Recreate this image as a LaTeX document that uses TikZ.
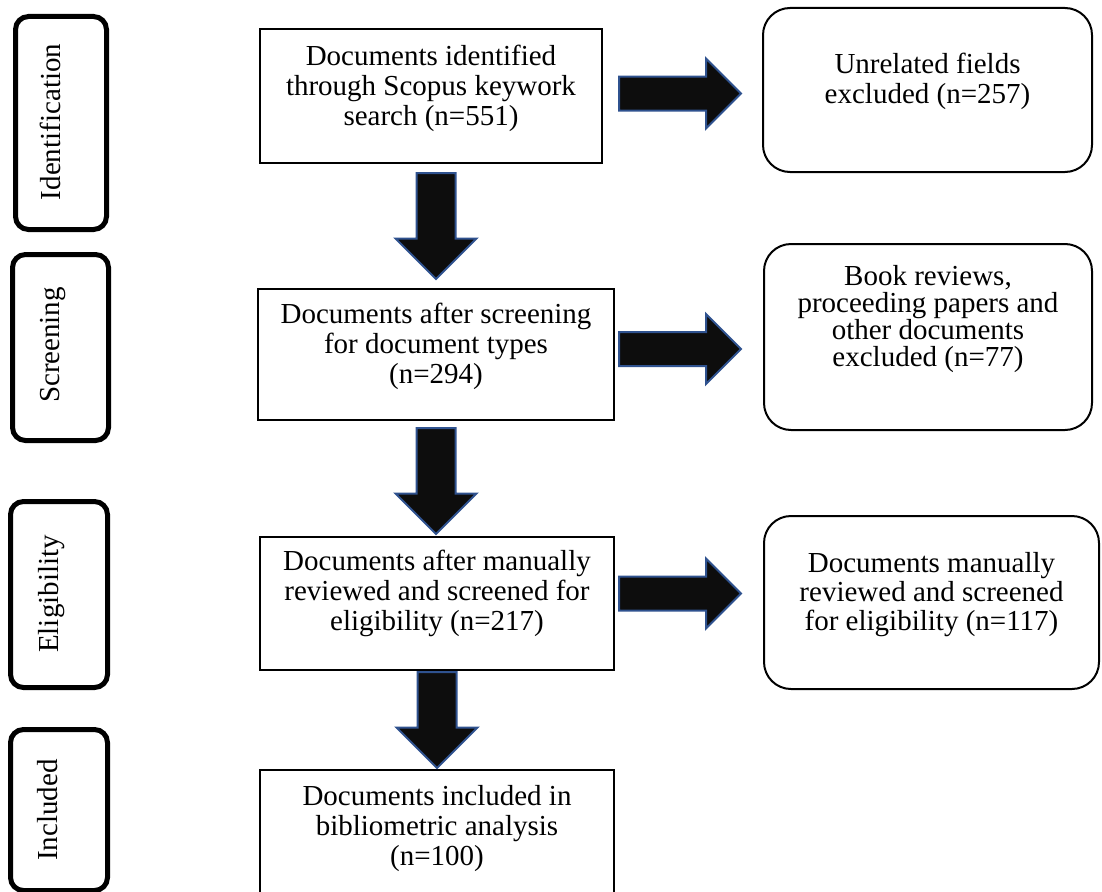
\documentclass[tikz,border=0pt]{standalone}
\usepackage{fontspec}
\setmainfont{Liberation Serif}
\usetikzlibrary{shapes.arrows,calc}
\definecolor{arrowline}{RGB}{47,82,143}
\definecolor{arrowfill}{RGB}{13,13,13}

\begin{document}
\begin{tikzpicture}[x=1pt,y=-1pt]
\tikzstyle{every node}+=[inner sep=0pt]
\tikzstyle{phasebox}=[draw=black, line width=5pt, rounded corners=13pt]
\tikzstyle{stepbox}=[draw=black, line width=2pt]
\tikzstyle{exclbox}=[draw=black, line width=2pt, rounded corners=27pt]
\tikzstyle{phasetext}=[rotate=90, anchor=base, font=\fontsize{29}{30}\selectfont]
\tikzstyle{steptext}=[anchor=north, align=center, font=\fontsize{29}{30}\selectfont]
\tikzstyle{blockarrow}=[single arrow, draw=arrowline, fill=arrowfill, line width=2pt, inner xsep=0pt, anchor=tail]
\tikzstyle{downarrow}=[blockarrow, rotate=-90, inner ysep=18.5pt, single arrow head extend=21pt, minimum height=106pt]
\tikzstyle{rightarrow}=[blockarrow, inner ysep=16pt, single arrow head extend=18pt, minimum height=122pt]
\useasboundingbox (0,0) rectangle (1102,891);
\clip (0,0) rectangle (1102,891);
\node[phasebox, minimum width=91pt, minimum height=213pt] (idn) at (61,123) {};
\node[phasetext] (idntxt) at (60,122) {Identification};
\node[phasebox, minimum width=96pt, minimum height=186pt] (scr) at (60.5,347.5) {};
\node[phasetext] (scrtxt) at (59,345) {Screening};
\node[phasebox, minimum width=97pt, minimum height=186pt] (elg) at (59,594.5) {};
\node[phasetext] (elgtxt) at (58,594) {Eligibility};
\node[phasebox, minimum width=97pt, minimum height=161pt] (inc) at (59,810) {};
\node[phasetext] (inctxt) at (57,810) {Included};
\node[stepbox, minimum width=342pt, minimum height=134pt] (docs1) at (431,96) {};
\node[steptext] (docs1txt) at (431,45) {Documents identified\\through Scopus keywork\\search (n=551)};
\node[stepbox, minimum width=356pt, minimum height=131pt] (docs2) at (436,354.5) {};
\node[steptext] (docs2txt) at (436,303) {Documents after screening\\for document types\\(n=294)};
\node[stepbox, minimum width=354pt, minimum height=133pt] (docs3) at (437,603.5) {};
\node[steptext] (docs3txt) at (437,550) {Documents after manually\\reviewed and screened for\\eligibility (n=217)};
\node[stepbox, minimum width=354pt, minimum height=134pt] (docs4) at (437,837) {};
\node[steptext] (docs4txt) at (437,785) {Documents included in\\bibliometric analysis\\(n=100)};
\node[exclbox, minimum width=329pt, minimum height=164pt] (excl1) at (927.5,90) {};
\node[steptext] (excl1txt) at (927.5,53) {Unrelated fields\\excluded (n=257)};
\node[exclbox, minimum width=328pt, minimum height=186pt] (excl2) at (928,337) {};
\node[steptext, font=\fontsize{29}{27}\selectfont] (excl2txt) at (928,265) {Book reviews,\\proceeding papers and\\other documents\\excluded (n=77)};
\node[exclbox, minimum width=335pt, minimum height=173pt] (excl3) at (931.5,602.5) {};
\node[steptext, font=\fontsize{29}{29}\selectfont] (excl3txt) at (931.5,552) {Documents manually\\reviewed and screened\\for eligibility (n=117)};
\node[downarrow] (dn1) at ($(docs1.south -| docs2)+(0,8)$) {};
\node[downarrow] (dn2) at ($(docs2.south)+(0,6)$) {};
\node[downarrow, minimum height=96pt] (dn3) at (docs3.south) {};
\node[rightarrow] (rt1) at ($(docs1.east |- excl1.west)+(15,3.5)$) {};
\node[rightarrow] (rt2) at ($(docs2.east)+(3,-5.5)$) {};
\node[rightarrow] (rt3) at ($(docs3.east)+(3,-10)$) {};
\end{tikzpicture}
\end{document}
